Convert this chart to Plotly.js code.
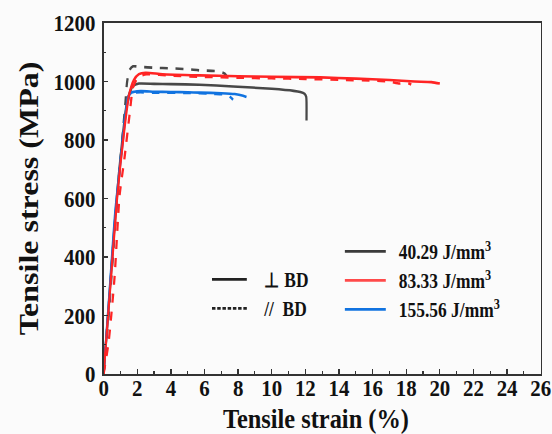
<!DOCTYPE html>
<html>
<head>
<meta charset="utf-8">
<script src="https://cdn.plot.ly/plotly-3.0.1.min.js"></script>
<style>
  html, body { margin: 0; padding: 0; background: #fbfbfb; overflow: hidden; width: 552px; height: 434px; }
  /* the figure is laid out wider and condensed horizontally to 552px */
  #chart { width: 634px; height: 434px; transform: scaleX(0.8707); transform-origin: 0 0; }
</style>
</head>
<body>
<div id="chart"></div>
<script>
// Tensile stress-strain curves for three energy densities, two build orientations
const energyLabels = ['  40.29 J/mm<sup>3</sup>', '  83.33 J/mm<sup>3</sup>', '  155.56 J/mm<sup>3</sup>'];
const orientationLabels = ['   \u22a5 BD', '   //  BD'];
const xTitle = 'Tensile strain (%)';
const yTitle = 'Tensile stress (MPa)';

// 40.29 J/mm3, perpendicular to BD
const strainA1 = [0, 0.3, 0.6, 0.9, 1.15, 1.35, 1.55, 1.75, 2.1, 3, 4, 5.7, 7.7, 10, 11.3, 11.7, 11.95, 12.05, 12.07, 12.07];
const stressA1 = [0, 230, 470, 680, 820, 915, 962, 985, 993, 992, 991, 989, 983, 975, 968, 964, 958, 948, 930, 867];
// 40.29 J/mm3, parallel to BD
const strainA2 = [0, 0.3, 0.6, 0.9, 1.15, 1.3, 1.4, 1.55, 1.75, 2.2, 3, 4, 5, 5.7, 6.8, 7.2, 7.35];
const stressA2 = [0, 200, 440, 660, 830, 930, 1000, 1040, 1052, 1050, 1047, 1045, 1042, 1038, 1035, 1027, 1015];

// 83.33 J/mm3, perpendicular to BD
const strainB1 = [0, 0.4, 0.8, 1.2, 1.5, 1.8, 2.1, 2.5, 3.5, 5.7, 8, 10, 12.9, 15, 17, 18.5, 19.5, 20];
const stressB1 = [0, 300, 600, 820, 950, 1005, 1025, 1030, 1025, 1021, 1018, 1016, 1014, 1010, 1005, 1000, 998, 993];
// 83.33 J/mm3, parallel to BD
const strainB2 = [0, 0.3, 0.65, 0.95, 1.25, 1.55, 1.75, 2.05, 2.55, 4, 6, 8, 10, 12, 14, 16, 17, 17.6, 18, 18.3];
const stressB2 = [0, 110, 330, 610, 742, 890, 980, 1015, 1025, 1020, 1016, 1013, 1011, 1009, 1006, 1003, 1000, 993, 996, 990];

// 155.56 J/mm3, perpendicular to BD
const strainC1 = [0, 0.35, 0.7, 1.15, 1.45, 1.65, 2.2, 3, 4, 5, 5.7, 7, 7.8, 8.3, 8.5];
const stressC1 = [0, 280, 560, 800, 945, 962, 967, 965, 964, 963, 962, 960, 957, 951, 947];
// 155.56 J/mm3, parallel to BD
const strainC2 = [0, 0.3, 0.65, 1.0, 1.3, 1.55, 1.9, 3, 5, 6.5, 7.2, 7.4, 7.55, 7.7];
const stressC2 = [0, 230, 500, 730, 890, 950, 962, 962, 961, 958, 956, 952, 946, 938];

const colBlack = '#484848';
const colRed = '#ff2424';
const colBlue = '#1173e0';

const xTickVals = [0, 2, 4, 6, 8, 10, 12, 14, 16, 18, 20, 22, 24, 26];
const yTickVals = [0, 200, 400, 600, 800, 1000, 1200];

function curve(x, y, color, dash) {
  return {
    x: x, y: y, type: 'scatter', mode: 'lines',
    line: { color: color, width: 2.6, dash: dash, shape: 'spline', smoothing: 0.6 },
    showlegend: false, hoverinfo: 'skip'
  };
}

function key(name, color, dash, legendId) {
  return {
    x: [null], y: [null], type: 'scatter', mode: 'lines', name: name,
    line: { color: color, width: 2.8, dash: dash },
    showlegend: true, legend: legendId
  };
}

const traces = [
  curve(strainA1, stressA1, colBlack, 'solid'),
  curve(strainA2, stressA2, colBlack, 'dash'),
  curve(strainC1, stressC1, colBlue, 'solid'),
  curve(strainC2, stressC2, colBlue, 'dash'),
  curve(strainB1, stressB1, colRed, 'solid'),
  curve(strainB2, stressB2, colRed, 'dash'),
  key(energyLabels[0], '#3a3a3a', 'solid', 'legend'),
  key(energyLabels[1], '#ff4a4a', 'solid', 'legend'),
  key(energyLabels[2], '#1173e0', 'solid', 'legend'),
  key(orientationLabels[0], '#222222', 'solid', 'legend2'),
  key(orientationLabels[1], '#222222', '4px,2px', 'legend2')
];

const serif = '"Liberation Serif", "Times New Roman", serif';
const axisCommon = {
  showgrid: false, zeroline: false,
  showline: true, linecolor: '#333', linewidth: 1.7, mirror: true,
  ticks: 'inside', ticklen: 5, tickwidth: 1.5, tickcolor: '#333',
  tickfont: { family: serif, size: 24, color: '#111', weight: 'bold' }
};

const layout = {
  width: 634, height: 434,
  margin: { l: 119, r: 13, t: 23, b: 60 },
  paper_bgcolor: '#fbfbfb', plot_bgcolor: '#fbfbfb',
  font: { family: serif, color: '#111' },
  xaxis: Object.assign({}, axisCommon, {
    range: [0, 26], tickvals: xTickVals, automargin: false, ticklabelstandoff: -8,
    minor: { dtick: 1, ticks: 'inside', ticklen: 3, tickwidth: 1.3, tickcolor: '#333' }
  }),
  yaxis: Object.assign({}, axisCommon, {
    range: [0, 1200], tickvals: yTickVals, automargin: 'width', ticklabelstandoff: 3,
    minor: { dtick: 100, ticks: 'inside', ticklen: 3, tickwidth: 1.3, tickcolor: '#333' },
    title: { text: yTitle, font: { family: serif, size: 32, color: '#111', weight: 'bold' }, standoff: 8 }
  }),
  // strain axis caption, set just under the tick labels
  annotations: [{
    text: xTitle, xref: 'paper', yref: 'paper', x: 0.487, y: -0.128,
    xanchor: 'center', yanchor: 'middle', showarrow: false,
    font: { family: serif, size: 28, color: '#111', weight: 'bold' }
  }],
  legend: {
    x: 0.542, y: 0.405, xanchor: 'left', yanchor: 'top',
    bgcolor: 'rgba(0,0,0,0)', itemwidth: 47,
    font: { family: serif, size: 20, color: '#111', weight: 'bold' }
  },
  legend2: {
    x: 0.238, y: 0.325, xanchor: 'left', yanchor: 'top',
    bgcolor: 'rgba(0,0,0,0)', itemwidth: 40,
    font: { family: serif, size: 20, color: '#111', weight: 'bold' }
  }
};

Plotly.newPlot('chart', traces, layout, { displayModeBar: false, staticPlot: true });
</script>
</body>
</html>
